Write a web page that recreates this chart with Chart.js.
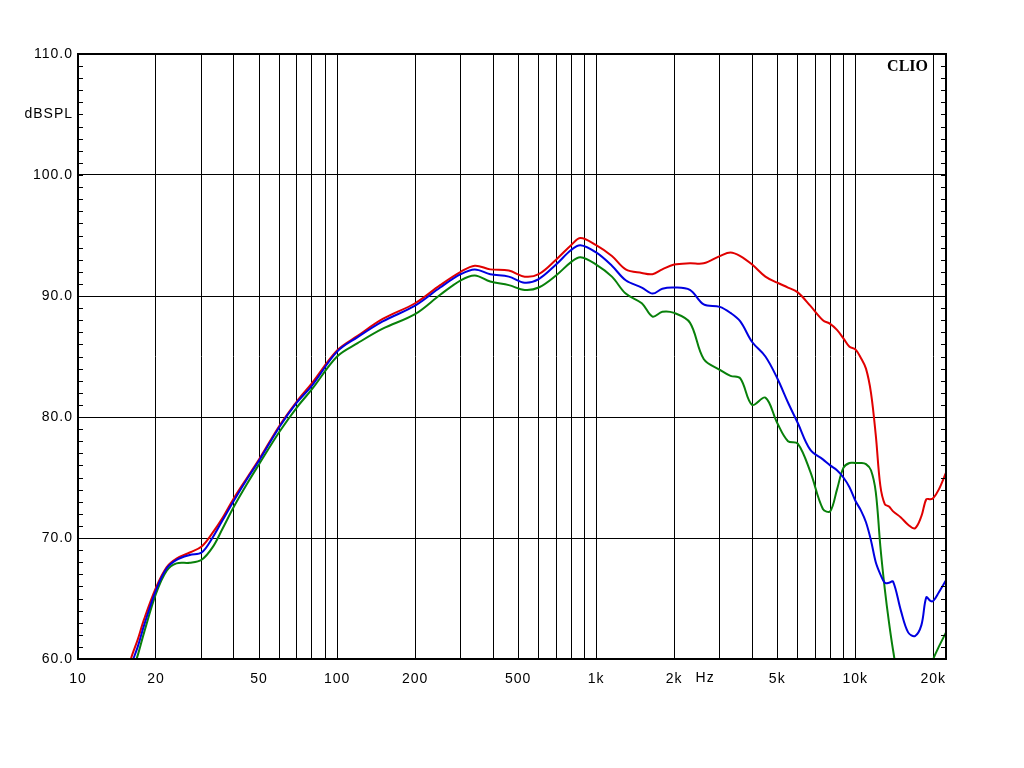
<!DOCTYPE html>
<html>
<head>
<meta charset="utf-8">
<script src="https://cdn.jsdelivr.net/npm/chart.js@4.4.1/dist/chart.umd.min.js"></script>
<style>
html, body { margin: 0; padding: 0; background: #fff; }
</style>
</head>
<body>
<canvas id="chart" width="1024" height="768"></canvas>
<script>
// frequency points (Hz) shared by the three curves
const freqs = [15, 16, 17, 18, 20, 22, 24, 27, 30, 33, 36, 40, 45, 50, 60, 70, 80, 100, 120, 150,
  200, 250, 300, 340, 390, 460, 530, 600, 700, 800, 870, 1000, 1150, 1300, 1500, 1650, 1800,
  2000, 2300, 2600, 3000, 3300, 3600, 4000, 4500, 5000, 5500, 6000, 6700, 7500, 8000, 8500,
  9000, 9500, 10000, 10500, 11000, 11500, 12000, 12500, 13000, 13500, 14000, 15000, 16000,
  17000, 18000, 18800, 19500, 20000, 21000, 22400];

const redDb = [57.5, 60.0, 61.6, 63.3, 65.9, 67.6, 68.3, 68.8, 69.3, 70.4, 71.6, 73.3, 75.0, 76.5, 79.3, 81.3, 82.8, 85.5, 86.7, 88.1,
  89.4, 90.9, 92.0, 92.5, 92.2, 92.1, 91.6, 91.8, 93.0, 94.2, 94.8, 94.2, 93.3, 92.2, 91.9, 91.8, 92.2,
  92.6, 92.7, 92.7, 93.3, 93.6, 93.3, 92.6, 91.6, 91.1, 90.7, 90.3, 89.2, 88.0, 87.7, 87.2,
  86.5, 85.8, 85.6, 84.9, 84.0, 82.0, 78.5, 74.3, 72.8, 72.6, 72.2, 71.7, 71.1,
  70.8, 71.8, 73.2, 73.2, 73.3, 74.0, 75.4];

const blueDb = [57.0, 59.4, 61.0, 62.8, 65.7, 67.5, 68.2, 68.6, 68.8, 70.0, 71.4, 73.1, 74.9, 76.4, 79.2, 81.2, 82.6, 85.4, 86.6, 87.9,
  89.2, 90.7, 91.8, 92.2, 91.8, 91.6, 91.1, 91.4, 92.6, 93.8, 94.2, 93.6, 92.5, 91.3, 90.7, 90.2, 90.6,
  90.7, 90.5, 89.3, 89.1, 88.6, 87.9, 86.2, 85.0, 83.2, 81.2, 79.5, 77.3, 76.5, 76.0, 75.6,
  75.0, 74.2, 73.1, 72.3, 71.3, 69.8, 68.0, 67.0, 66.3, 66.3, 66.4, 64.0, 62.2,
  61.9, 62.8, 65.1, 64.8, 64.8, 65.5, 66.5];

const greenDb = [56.5, 58.5, 60.3, 62.2, 65.4, 67.3, 67.9, 67.95, 68.2, 69.2, 70.7, 72.6, 74.5, 76.1, 78.8, 80.8, 82.3, 85.0, 86.1, 87.3,
  88.5, 90.1, 91.3, 91.7, 91.2, 90.9, 90.5, 90.7, 91.7, 92.8, 93.2, 92.6, 91.6, 90.2, 89.4, 88.3, 88.7,
  88.6, 87.8, 84.8, 83.9, 83.4, 83.2, 81.0, 81.6, 79.5, 78.0, 77.8, 75.5, 72.4, 72.2, 74.0,
  75.8, 76.2, 76.2, 76.2, 76.1, 75.6, 73.8, 69.3, 65.8, 63.0, 60.7, 57.0, 55.0,
  54.0, 55.0, 57.5, 59.2, 60.0, 61.0, 62.2];

// axis ticks
const xLabelFreqs = [10, 20, 50, 100, 200, 500, 1000, 2000, 5000, 10000, 20000];
const yTicks = [60, 70, 80, 90, 100, 105, 110];

const xMin = 10, xMax = 22400;
const gridFreqs = [];
[10, 100, 1000, 10000].forEach(d => {
  for (let m = 1; m <= 9; m++) if (m * d <= xMax) gridFreqs.push(m * d);
});

const pts = arr => freqs.map((f, i) => ({x: f, y: arr[i]}));
const labelFont = {family: "'Liberation Sans', Arial, sans-serif", size: 14};

// the old bitmap font is wide, so spread the letters a little
const spacing = {
  id: 'spacing',
  beforeUpdate(chart) { chart.ctx.letterSpacing = '1px'; },
  beforeDraw(chart) { chart.ctx.letterSpacing = '1px'; }
};

// frame, small dB ticks, and the extra texts
const decorations = {
  id: 'decorations',
  afterDatasetsDraw(chart) {
    const c = chart.ctx, a = chart.chartArea, ys = chart.scales.y, xs = chart.scales.x;
    c.save();
    c.strokeStyle = '#000';
    c.lineWidth = 1;
    c.beginPath();
    for (let v = 61; v < 110; v++) {
      const py = Math.round(ys.getPixelForValue(v)) + 0.5;
      c.moveTo(a.left, py); c.lineTo(a.left + 5, py);
      c.moveTo(a.right - 5, py); c.lineTo(a.right, py);
    }
    c.stroke();
    c.lineWidth = 2;
    c.strokeRect(a.left, a.top, a.right - a.left, a.bottom - a.top);

    c.fillStyle = '#000';
    c.letterSpacing = '0px';
    c.font = "bold 16px 'Liberation Serif', 'Times New Roman', serif";
    c.textAlign = 'right';
    c.textBaseline = 'middle';
    c.fillText('CLIO', a.right - 18, a.top + 13);

    c.letterSpacing = '1px';
    c.font = "14px 'Liberation Sans', Arial, sans-serif";
    c.textAlign = 'center';
    c.textBaseline = 'top';
    c.fillText('Hz', xs.getPixelForValue(2000) + 31, a.bottom + 12);
    c.restore();
  }
};

const chart = new Chart(document.getElementById('chart'), {
  type: 'line',
  data: {
    datasets: [
      {label: 'blue', data: pts(blueDb), borderColor: '#0000e0'},
      {label: 'red', data: pts(redDb), borderColor: '#e00000'},
      {label: 'green', data: pts(greenDb), borderColor: '#08800a'}
    ]
  },
  options: {
    responsive: false,
    animation: false,
    parsing: false,
    layout: {padding: {top: 54, right: 78, bottom: 0, left: 0}},
    elements: {
      point: {radius: 0},
      line: {borderWidth: 2, tension: 0.35, fill: false}
    },
    plugins: {legend: {display: false}, tooltip: {enabled: false}},
    scales: {
      x: {
        type: 'logarithmic',
        min: xMin,
        max: xMax,
        afterBuildTicks: s => { s.ticks = gridFreqs.map(v => ({value: v})); },
        afterFit: s => { s.height = 109; },
        border: {display: false},
        grid: {color: '#000', lineWidth: 1, drawTicks: false},
        ticks: {
          autoSkip: false,
          maxRotation: 0,
          padding: 12,
          color: '#000',
          font: labelFont,
          callback: v => xLabelFreqs.includes(v) ? (v >= 1000 ? (v / 1000) + 'k' : String(v)) : ''
        }
      },
      y: {
        min: 60,
        max: 110,
        afterBuildTicks: s => { s.ticks = yTicks.map(v => ({value: v})); },
        afterFit: s => { s.width = 78; },
        border: {display: false},
        grid: {
          color: ctx => ctx.tick && ctx.tick.value === 105 ? 'rgba(0,0,0,0)' : '#000',
          lineWidth: 1,
          drawTicks: false
        },
        ticks: {
          padding: 5,
          color: '#000',
          font: labelFont,
          callback: v => v === 105 ? 'dBSPL' : v.toFixed(1)
        }
      }
    }
  },
  plugins: [spacing, decorations]
});
</script>
</body>
</html>
